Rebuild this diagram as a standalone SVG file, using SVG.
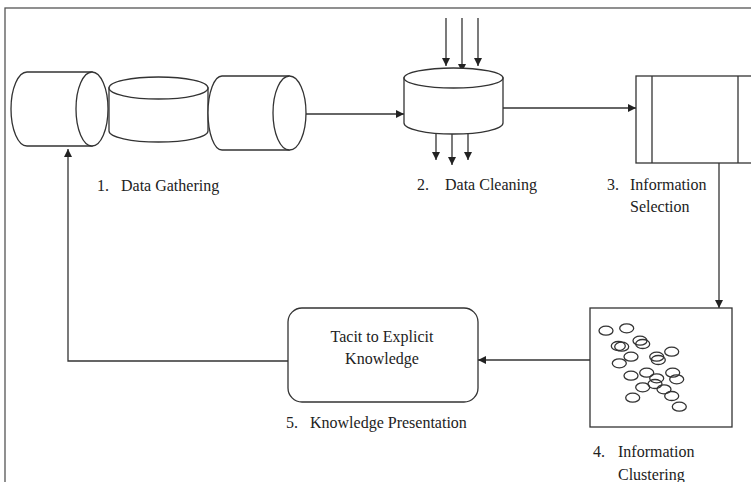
<svg xmlns="http://www.w3.org/2000/svg" width="751" height="482" viewBox="0 0 751 482">
<defs>
<marker id="ah" viewBox="0 0 10 10" refX="10" refY="5" markerWidth="8" markerHeight="8" markerUnits="userSpaceOnUse" orient="auto">
<path d="M0,0 L10,5 L0,10 z" fill="#222"/>
</marker>
<style>
.s{fill:#fff;stroke:#333;stroke-width:1.3}
.n{fill:none;stroke:#333;stroke-width:1.3}
.c{fill:none;stroke:#333;stroke-width:1.3;marker-end:url(#ah)}
.t{font-family:"Liberation Serif","Times New Roman",serif;font-size:16px;fill:#222}
.e{fill:none;stroke:#333;stroke-width:1.3}
</style>
</defs>
<rect x="0" y="0" width="751" height="482" fill="#fff"/>
<rect x="5" y="8" width="800" height="500" fill="none" stroke="#555" stroke-width="1.3"/>

<g id="connectors">
<line class="c" x1="306" y1="114" x2="404" y2="114"/>
<line class="c" x1="446" y1="18" x2="446" y2="66"/>
<line class="c" x1="462" y1="18" x2="462" y2="72"/>
<line class="c" x1="478" y1="18" x2="478" y2="66"/>
<line class="c" x1="436" y1="113" x2="436" y2="160"/>
<line class="c" x1="452" y1="113" x2="452" y2="165"/>
<line class="c" x1="468" y1="113" x2="468" y2="160"/>
<line class="c" x1="503" y1="108" x2="636" y2="108"/>
<line class="c" x1="719" y1="163" x2="719" y2="308"/>
<line class="c" x1="590" y1="360" x2="478" y2="360"/>
<polyline class="c" points="288,361 68,361 68,149"/>
</g>

<g id="data-gathering">
<path class="s" d="M27,72 L92,72 L92,146 L27,146 A16,37 0 0 1 27,72 Z"/>
<ellipse class="s" cx="92" cy="109" rx="16" ry="37"/>
<path class="s" d="M109,88 L109,131 A49.5,11 0 0 0 208,131 L208,88 Z"/>
<ellipse class="s" cx="158.5" cy="88" rx="49.5" ry="11"/>
<path class="s" d="M222,76 L289,76 L289,150 L222,150 A14,37 0 0 1 222,76 Z"/>
<ellipse class="s" cx="289.5" cy="113" rx="16.5" ry="37"/>
<text class="t" x="97" y="191">1.</text>
<text class="t" x="121" y="191">Data Gathering</text>
</g>

<g id="data-cleaning">
<path class="s" d="M404,78 L404,123 A49.5,11 0 0 0 503,123 L503,78 Z"/>
<ellipse class="s" cx="453.5" cy="78" rx="49.5" ry="10"/>
<text class="t" x="417" y="190">2.</text>
<text class="t" x="445" y="190">Data Cleaning</text>
</g>

<g id="information-selection">
<rect class="s" x="636" y="76" width="130" height="87"/>
<line class="n" x1="652" y1="76" x2="652" y2="163"/>
<line class="n" x1="738" y1="76" x2="738" y2="163"/>
<text class="t" x="607" y="190">3.</text>
<text class="t" x="630" y="190">Information</text>
<text class="t" x="630" y="212">Selection</text>
</g>

<g id="information-clustering">
<rect class="s" x="590" y="308" width="142" height="119"/>
<ellipse class="e" cx="606" cy="330.7" rx="7" ry="4.5"/>
<ellipse class="e" cx="626.7" cy="328.3" rx="7" ry="4.5"/>
<ellipse class="e" cx="618.3" cy="346" rx="7" ry="4.5"/>
<ellipse class="e" cx="621.7" cy="346.7" rx="7" ry="4.5"/>
<ellipse class="e" cx="640" cy="340.7" rx="7" ry="4.5"/>
<ellipse class="e" cx="642.7" cy="344" rx="7" ry="4.5"/>
<ellipse class="e" cx="619.3" cy="363.3" rx="7" ry="4.5"/>
<ellipse class="e" cx="631" cy="356.7" rx="7" ry="4.5"/>
<ellipse class="e" cx="656.7" cy="356.7" rx="7" ry="4.5"/>
<ellipse class="e" cx="658.3" cy="360" rx="7" ry="4.5"/>
<ellipse class="e" cx="671.7" cy="351.7" rx="7" ry="4.5"/>
<ellipse class="e" cx="631" cy="375.7" rx="7" ry="4.5"/>
<ellipse class="e" cx="646.7" cy="372.7" rx="7" ry="4.5"/>
<ellipse class="e" cx="656.7" cy="378.3" rx="7" ry="4.5"/>
<ellipse class="e" cx="655" cy="384" rx="7" ry="4.5"/>
<ellipse class="e" cx="672.7" cy="372.7" rx="7" ry="4.5"/>
<ellipse class="e" cx="676.7" cy="379.3" rx="7" ry="4.5"/>
<ellipse class="e" cx="642.7" cy="387.3" rx="7" ry="4.5"/>
<ellipse class="e" cx="664" cy="389.3" rx="7" ry="4.5"/>
<ellipse class="e" cx="671.7" cy="396" rx="7" ry="4.5"/>
<ellipse class="e" cx="632.7" cy="397.7" rx="7" ry="4.5"/>
<ellipse class="e" cx="679.3" cy="406.7" rx="7" ry="4.5"/>
<text class="t" x="593" y="457">4.</text>
<text class="t" x="618" y="457">Information</text>
<text class="t" x="618" y="480">Clustering</text>
</g>

<g id="knowledge-presentation">
<rect class="s" x="288" y="308" width="190" height="94" rx="14" ry="14"/>
<text class="t" x="382" y="342" text-anchor="middle">Tacit to Explicit</text>
<text class="t" x="382" y="364" text-anchor="middle">Knowledge</text>
<text class="t" x="286" y="428">5.</text>
<text class="t" x="310" y="428">Knowledge Presentation</text>
</g>
</svg>
